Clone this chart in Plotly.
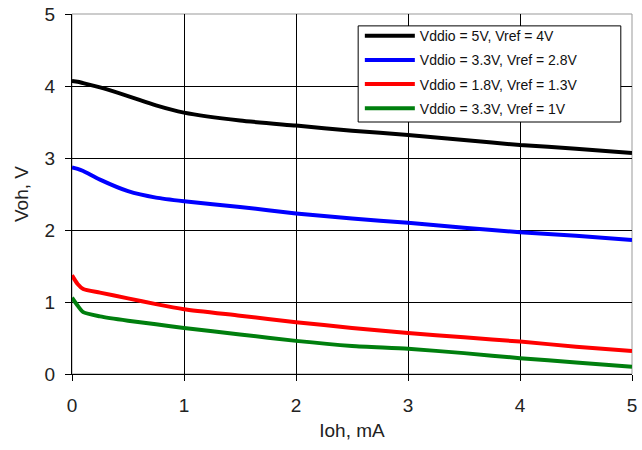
import plotly.graph_objects as go

# Ioh (mA) sample points
ioh = [0, 0.05, 0.1, 0.25, 0.5, 0.75, 1, 1.5, 2, 2.5, 3, 3.5, 4, 4.5, 5]

voh_5v_4v = [4.07, 4.06, 4.04, 3.98, 3.86, 3.73, 3.63, 3.52, 3.45, 3.38, 3.32, 3.25, 3.18, 3.13, 3.07]
voh_33v_28v = [2.87, 2.85, 2.82, 2.70, 2.54, 2.45, 2.40, 2.32, 2.23, 2.16, 2.10, 2.03, 1.97, 1.92, 1.86]
voh_18v_13v = [1.37, 1.25, 1.18, 1.13, 1.05, 0.97, 0.90, 0.81, 0.72, 0.64, 0.57, 0.51, 0.45, 0.38, 0.32]
voh_33v_1v = [1.06, 0.95, 0.86, 0.80, 0.74, 0.69, 0.64, 0.55, 0.46, 0.39, 0.35, 0.29, 0.22, 0.16, 0.10]

names = ['Vddio = 5V, Vref = 4V', 'Vddio = 3.3V, Vref = 2.8V',
         'Vddio = 1.8V, Vref = 1.3V', 'Vddio = 3.3V, Vref = 1V']
series = [voh_5v_4v, voh_33v_28v, voh_18v_13v, voh_33v_1v]
colors = ['#000000', '#0000ff', '#ff0000', '#007f0e']

fig = go.Figure()
for i, (name, ys, c) in enumerate(zip(names, series, colors)):
    fig.add_trace(go.Scatter(x=ioh, y=ys, name=name, mode='lines', legendgroup=str(i),
                             line=dict(color=c, width=4, shape='spline', smoothing=0.6)))

# grey frame around plot area
fig.add_shape(type='rect', xref='paper', yref='paper', x0=0, y0=0, x1=1, y1=1,
              line=dict(color='#999999', width=1), layer='below')
# legend box
fig.add_shape(type='rect', xref='paper', yref='paper', x0=0.511, y0=0.70, x1=0.980, y1=0.967,
              line=dict(color='black', width=1), fillcolor='white', layer='above')

axis_font = dict(family='Liberation Sans, Arial, sans-serif', size=19, color='#222222')

fig.update_layout(
    width=642, height=450,
    margin=dict(l=72, r=10, t=14, b=76),
    paper_bgcolor='white', plot_bgcolor='white',
    font=dict(family='Liberation Sans, Arial, sans-serif', size=16, color='#222222'),
    legend=dict(x=0.514, y=0.983, xanchor='left', yanchor='top',
                bgcolor='rgba(0,0,0,0)', borderwidth=0,
                font=dict(family='Liberation Sans, Arial, sans-serif', size=14, color='#111111'),
                tracegroupgap=3, itemwidth=50),
    showlegend=True,
)
fig.update_xaxes(range=[0, 5], dtick=1, showgrid=True, gridcolor='black', gridwidth=1,
                 showline=True, linecolor='black', linewidth=1, automargin=False,
                 ticks='outside', ticklen=6, tickcolor='black', zeroline=False,
                 tickfont=axis_font, ticklabelstandoff=8, ticklabeloverflow='allow',
                 title=dict(text='Ioh, mA', font=axis_font, standoff=8))
fig.update_yaxes(range=[0, 5], dtick=1, showgrid=True, gridcolor='black', gridwidth=1,
                 showline=True, linecolor='black', linewidth=1, automargin=False,
                 ticks='outside', ticklen=6, tickcolor='black', zeroline=False,
                 tickfont=axis_font, ticklabelstandoff=6, ticklabeloverflow='allow',
                 title=dict(text='Voh, V', font=axis_font, standoff=10))

# drop the default 8px page margin so the figure fills the window
fig.write_html("out.html", config={'displayModeBar': False},
               post_script="document.body.style.margin='0';")
